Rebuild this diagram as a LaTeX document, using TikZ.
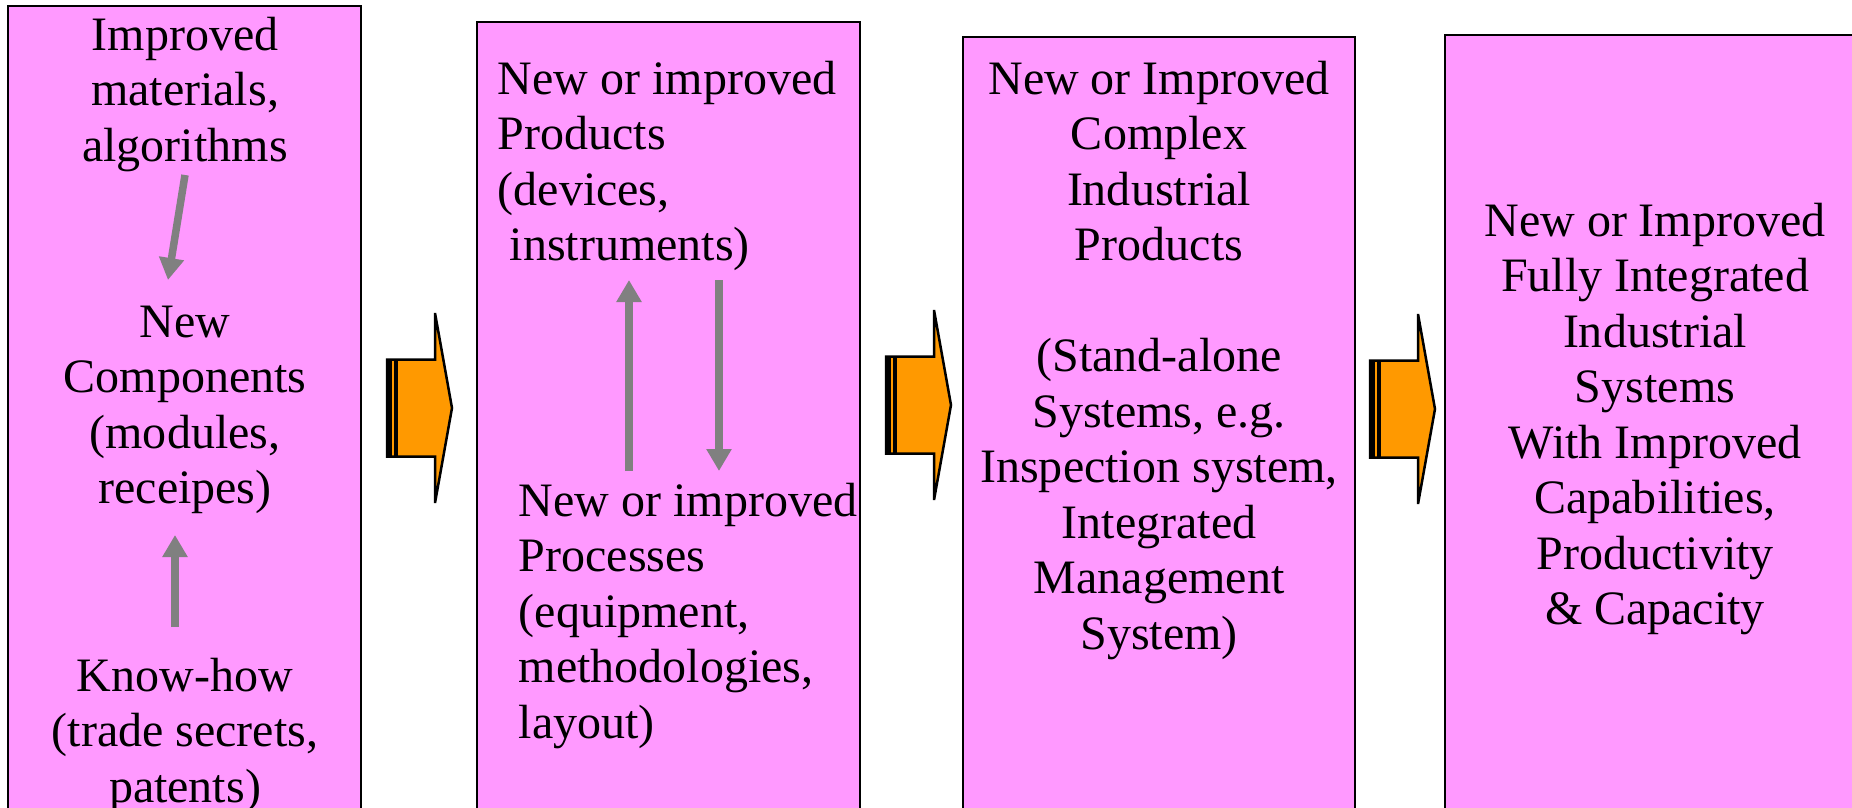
\documentclass[tikz,border=0pt]{standalone}
\usepackage{fontspec}
\setmainfont{Liberation Serif}
\usetikzlibrary{arrows.meta}
\definecolor{boxpink}{RGB}{255,153,255}
\definecolor{arroworange}{RGB}{255,153,0}
\definecolor{flowgray}{RGB}{128,128,128}

\begin{document}
\begin{tikzpicture}[
    stage/.style={draw=black, fill=boxpink, line width=0.025cm},
    bigarrow/.style={draw=black, fill=arroworange, line width=0.025cm, line join=miter},
    flow/.style={flowgray, line width=0.075cm, -{Triangle[width=0.24cm, length=0.22cm]}},
    lbl/.style={inner sep=0, font=\fontsize{13.66}{15.79}\selectfont}]
        \clip (0, 0) rectangle (18.52, 8.07);

%       the four stages
        \foreach \i/\xa/\xb/\yt in
        {
            1/0.08/3.61/8.01,
            2/4.77/8.60/7.85,
            3/9.63/13.55/7.70,
            4/14.45/18.80/7.72
        }
        {
            \draw [stage] (\xa, -0.3) rectangle (\xb, \yt);
        }

%       orange block arrows between the stages
        \foreach \x/\y in {3.86/3.99, 8.85/4.02, 13.69/3.98}
        {
            \draw [bigarrow] (\x+0.01, \y-0.485) -- (\x+0.49, \y-0.485) -- (\x+0.49, \y-0.95)
                -- (\x+0.66, \y) -- (\x+0.49, \y+0.95) -- (\x+0.49, \y+0.485)
                -- (\x+0.01, \y+0.485) -- cycle;
            \fill (\x, \y-0.485) rectangle (\x+0.057, \y+0.485);
            \draw [line width=0.043cm] (\x+0.102, \y-0.485) -- (\x+0.102, \y+0.485);
        }

%       stage 1 (base = last line)
        \node [lbl, align=center, anchor=base] (materials) at (1.85, 6.46)
            {Improved\\materials,\\algorithms};
        \node [lbl, align=center, anchor=base] (components) at (1.85, 3.035)
            {New\\Components\\(modules,\\receipes)};
        \node [lbl, align=center, anchor=base] (knowhow) at (1.85, 0.05)
            {Know-how\\(trade secrets,\\patents)};

%       stage 2
        \node [lbl, align=left, anchor=base west] (products) at (4.97, 5.465)
            {New or improved\\Products\\(devices,\\~instruments)};
        \node [lbl, align=left, anchor=base west] (processes) at (5.18, 0.69)
            {New or improved\\Processes\\(equipment,\\methodologies,\\layout)};

%       stage 3
        \node [lbl, align=center, anchor=base] (complex) at (11.59, 1.58)
            {New or Improved\\Complex\\Industrial\\Products\\[15.79pt](Stand-alone\\Systems, e.g.\\Inspection system,\\Integrated\\Management\\System)};

%       stage 4
        \node [lbl, align=center, anchor=base] (integrated) at (16.55, 1.825)
            {New or Improved\\Fully Integrated\\Industrial\\Systems\\With Improved\\Capabilities,\\Productivity\\\& Capacity};

%       gray arrows
        \coordinate (mat out) at (1.85, 6.32);
        \coordinate (comp in) at (1.68, 5.27);
        \coordinate (know out) at (1.75, 1.80);
        \coordinate (comp up) at (1.75, 2.72);
        \coordinate (proc up) at (6.29, 3.36);
        \coordinate (prod in) at (6.29, 5.27);
        \coordinate (prod out) at (7.19, 5.27);
        \coordinate (proc in) at (7.19, 3.36);

        \draw [flow] (mat out) -- (comp in);
        \draw [flow] (know out) -- (comp up);
        \draw [flow] (proc up) -- (prod in);
        \draw [flow] (prod out) -- (proc in);
\end{tikzpicture}
\end{document}
